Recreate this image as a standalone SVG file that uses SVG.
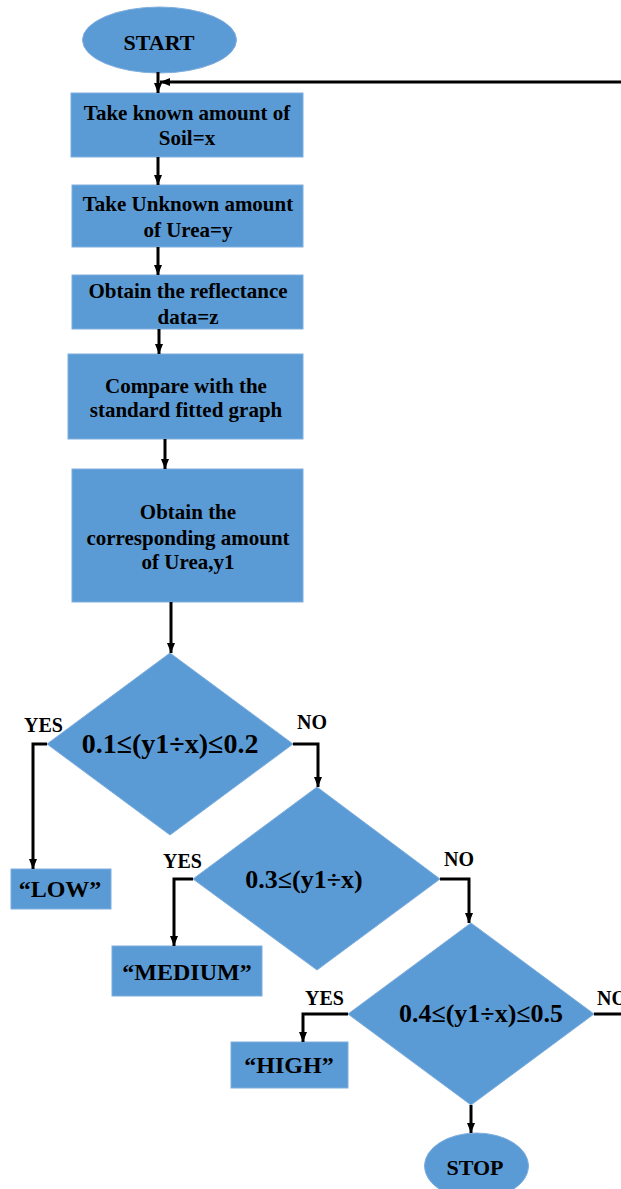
<svg xmlns="http://www.w3.org/2000/svg" width="621" height="1189" viewBox="0 0 621 1189">
<style>
.shape{fill:#5B9BD5;stroke:#7FAEDD;stroke-width:1}
.t{font-family:"Liberation Serif","Times New Roman",serif;font-weight:bold;fill:#000;text-anchor:middle}
.box{font-size:21px}
.dia{font-size:28px}
.lbl{font-size:20px;text-anchor:start}
.out{font-size:24px}
.conn{fill:none;stroke:#000;stroke-width:3}
</style>
<defs>
<marker id="ah" markerUnits="userSpaceOnUse" markerWidth="10" markerHeight="10" refX="10" refY="5" orient="auto">
<path d="M0,1 L10,5 L0,9 z" fill="#000"/>
</marker>
</defs>
<rect width="621" height="1189" fill="#fff"/>
<g id="start">
<ellipse class="shape" cx="159.5" cy="40" rx="77" ry="33"/>
<text class="t" x="159" y="50" font-size="22">START</text>
</g>
<g id="box1">
<rect class="shape" x="71" y="93" width="232" height="64"/>
<text class="t box" x="187" y="120">Take known amount of</text>
<text class="t box" x="187" y="145">Soil=x</text>
</g>
<g id="box2">
<rect class="shape" x="72" y="185" width="231" height="62"/>
<text class="t box" x="188" y="211">Take Unknown amount</text>
<text class="t box" x="188" y="237">of Urea=y</text>
</g>
<g id="box3">
<rect class="shape" x="72" y="275" width="231" height="54"/>
<text class="t box" x="188" y="298">Obtain the reflectance</text>
<text class="t box" x="188" y="324">data=z</text>
</g>
<g id="box4">
<rect class="shape" x="68" y="354" width="235" height="85"/>
<text class="t box" x="186" y="393">Compare with the</text>
<text class="t box" x="186" y="417">standard fitted graph</text>
</g>
<g id="box5">
<rect class="shape" x="72" y="469" width="231" height="133"/>
<text class="t box" x="188" y="519">Obtain the</text>
<text class="t box" x="188" y="545">corresponding amount</text>
<text class="t box" x="188" y="569">of Urea,y1</text>
</g>
<g id="dec1">
<polygon class="shape" points="170,653 293,744 170,835 47,744"/>
<text class="t dia" x="170" y="753">0.1≤(y1÷x)≤0.2</text>
</g>
<g id="dec2">
<polygon class="shape" points="317,787 440,879 317,970 193,879"/>
<text class="t" x="304" y="888" font-size="26">0.3≤(y1÷x)</text>
</g>
<g id="dec3">
<polygon class="shape" points="471,923 594,1014 471,1105 348,1014"/>
<text class="t" x="481" y="1022" font-size="26">0.4≤(y1÷x)≤0.5</text>
</g>
<g id="low">
<rect class="shape" x="11" y="869" width="100" height="40"/>
<text class="t out" x="60" y="897">“LOW”</text>
</g>
<g id="medium">
<rect class="shape" x="112" y="946" width="150" height="50"/>
<text class="t out" x="187" y="980">“MEDIUM”</text>
</g>
<g id="high">
<rect class="shape" x="231" y="1042" width="117" height="46"/>
<text class="t out" x="289" y="1073">“HIGH”</text>
</g>
<g id="stop">
<ellipse class="shape" cx="476.5" cy="1166" rx="52" ry="33"/>
<text class="t" x="475" y="1175" font-size="22">STOP</text>
</g>
<g id="labels">
<text class="t lbl" x="24" y="732">YES</text>
<text class="t lbl" x="297" y="729">NO</text>
<text class="t lbl" x="163" y="868">YES</text>
<text class="t lbl" x="444" y="866">NO</text>
<text class="t lbl" x="305" y="1005">YES</text>
<text class="t lbl" x="597" y="1005">NO</text>
</g>
<g id="connectors">
<path class="conn" d="M158,72 V93" marker-end="url(#ah)"/>
<path class="conn" d="M594,1014 H627 V82 H160" marker-end="url(#ah)"/>
<path class="conn" d="M158,157 V185" marker-end="url(#ah)"/>
<path class="conn" d="M158,247 V275" marker-end="url(#ah)"/>
<path class="conn" d="M159,329 V354" marker-end="url(#ah)"/>
<path class="conn" d="M165,439 V469" marker-end="url(#ah)"/>
<path class="conn" d="M171,602 V653" marker-end="url(#ah)"/>
<path class="conn" d="M47,744 H33 V869" marker-end="url(#ah)"/>
<path class="conn" d="M293,744 H318 V787" marker-end="url(#ah)"/>
<path class="conn" d="M193,879 H174 V946" marker-end="url(#ah)"/>
<path class="conn" d="M440,879 H469 V923" marker-end="url(#ah)"/>
<path class="conn" d="M348,1014 H303 V1042" marker-end="url(#ah)"/>
<path class="conn" d="M471,1105 V1133" marker-end="url(#ah)"/>
</g>
</svg>
